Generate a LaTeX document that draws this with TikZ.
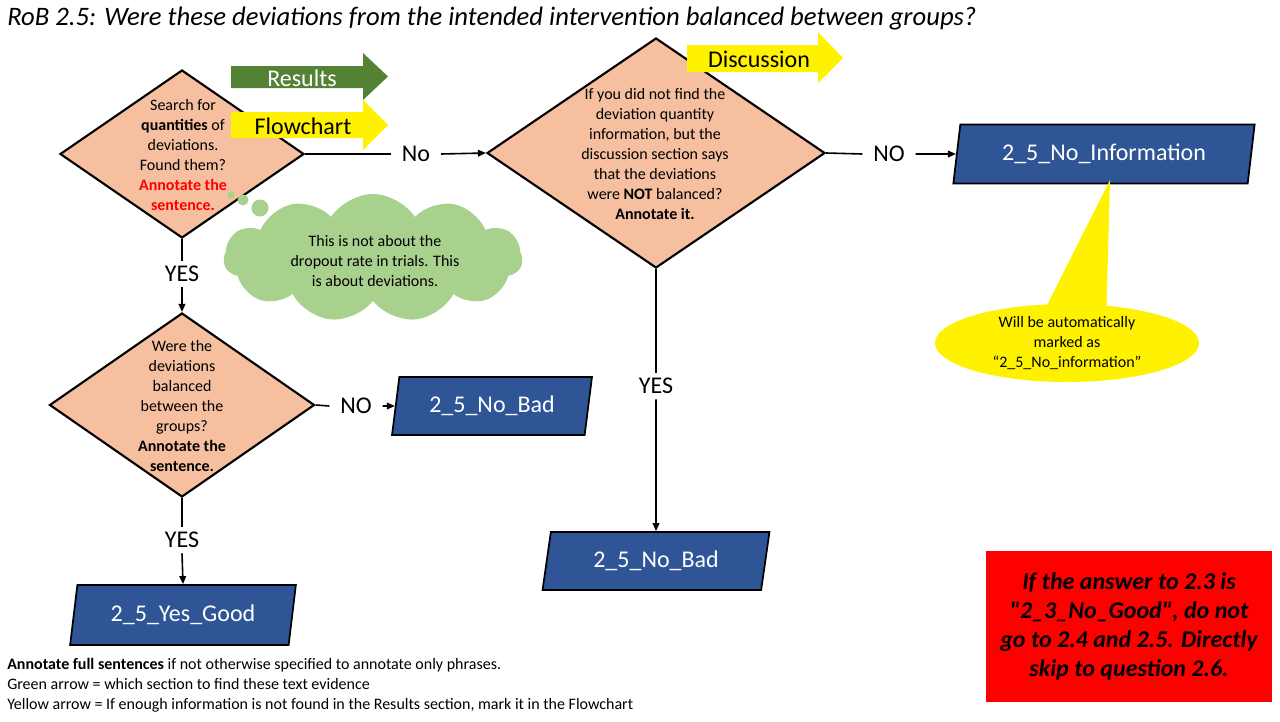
\documentclass[tikz,border=0pt]{standalone}
\usepackage{fontspec}
\setmainfont{Carlito}[Ligatures=TeXOff]
\usetikzlibrary{shapes.geometric,shapes.symbols,shapes.callouts,arrows.meta}
\definecolor{peach}{HTML}{F5BFA0}
\definecolor{pblue}{HTML}{2F5597}
\definecolor{rgreen}{HTML}{548235}
\definecolor{cgreen}{HTML}{A9D18E}
\definecolor{redtxt}{HTML}{FF0000}
\newcommand{\szT}{\fontsize{18}{22}\selectfont}
\newcommand{\szH}{\fontsize{20}{24}\selectfont}
\newcommand{\szD}{\fontsize{12}{15}\selectfont}
\newcommand{\szR}{\fontsize{18}{21.75}\selectfont}
\begin{document}
\begin{tikzpicture}[x=0.75pt,y=-0.75pt,
  decision/.style={diamond, draw=black, line width=1.6pt, fill=peach, inner sep=0pt},
  dtext/.style={align=center, font=\szD, inner sep=0pt},
  outbox/.style={trapezium, trapezium left angle=76, trapezium right angle=104,
     trapezium stretches=true, draw=black, line width=1.3pt, fill=pblue,
     text=white, font=\szT, inner sep=0pt},
  lab/.style={font=\szT, inner xsep=8pt, inner ysep=4pt},
  conn/.style={line width=1.2pt},
  arr/.style={conn, -{Triangle[length=6pt,width=5pt]}},
  bigarrowtxt/.style={font=\szT, inner sep=0pt}
]
\useasboundingbox (0,0) rectangle (1280,721);
\fill[white] (0,0) rectangle (1280,721);

% title
\node[anchor=west, font=\szH\itshape, inner sep=0pt] (title) at (7,19)
  {RoB 2.5: Were these deviations from the intended intervention balanced between groups?};

% decisions
\node[decision, minimum width=183pt, minimum height=126pt] (d1) at (182,154) {};
\node[dtext] (d1t) at (183,155) {Search for\\ \textbf{quantities} of\\ deviations.\\ Found them?\\ \textcolor{redtxt}{\textbf{Annotate the}}\\ \textcolor{redtxt}{\textbf{sentence.}}};

\node[decision, minimum width=253.5pt, minimum height=172.5pt] (d2) at (656,153) {};
\node[dtext] (d2t) at (655,154) {If you did not find the\\ deviation quantity\\ information, but the\\ discussion section says\\ that the deviations\\ were \textbf{NOT} balanced?\\ \textbf{Annotate it.}};

\node[decision, minimum width=198.75pt, minimum height=138pt] (d3) at (182,405) {};
\node[dtext] (d3t) at (182,406) {Were the\\ deviations\\ balanced\\ between the\\ groups?\\ \textbf{Annotate the}\\ \textbf{sentence.}};

% section arrows
\fill[rgreen] (231,66) -- (363,66) -- (363,53) -- (388,76.5) -- (363,100) -- (363,88) -- (231,88) -- cycle;
\node[bigarrowtxt, text=white] (tres) at (302,78) {Results};
\fill[yellow] (231,112) -- (363,112) -- (363,100) -- (388,125) -- (363,150) -- (363,138) -- (231,138) -- cycle;
\node[bigarrowtxt] (tflow) at (303,126) {Flowchart};
\fill[yellow] (687,45) -- (818,45) -- (818,32) -- (843,58) -- (818,83) -- (818,72) -- (687,72) -- cycle;
\node[bigarrowtxt] (tdisc) at (759,59) {Discussion};

% cloud
\node[cloud, cloud puffs=11, cloud puff arc=115, aspect=2.36, fill=cgreen,
      minimum width=224pt, minimum height=96pt, inner sep=0pt] (cloud) at (373,258) {};
\fill[cgreen] (231,195) circle (3.5);
\fill[cgreen] (243,200) circle (5.5);
\fill[cgreen] (260,208) circle (8.5);
\node[dtext] (cloudt) at (375,261) {This is not about the\\ dropout rate in trials. This\\ is about deviations.};

% outcomes
\node[outbox, minimum width=226.5pt, minimum height=44.25pt] (noinfo) at (1104,154) {2\_5\_No\_Information};
\node[outbox, minimum width=150pt, minimum height=43.5pt] (nobadL) at (492,406) {2\_5\_No\_Bad};
\node[outbox, minimum width=169.5pt, minimum height=45pt] (yesgood) at (183,615) {2\_5\_Yes\_Good};
\node[outbox, minimum width=170.25pt, minimum height=43.5pt] (nobadM) at (656,561) {2\_5\_No\_Bad};

% labels on connectors
\node[lab] (l1) at (416,154) {No};
\node[lab] (l2) at (889,154) {NO};
\node[lab] (l3) at (182,274) {YES};
\node[lab] (l4) at (356,406) {NO};
\node[lab] (l5) at (182,540) {YES};
\node[lab] (l6) at (656,386) {YES};

\draw[conn] (d1.east) -- (l1.west);
\draw[arr] (l1.east) -- (d2.west);
\draw[conn] (d2.east) -- (l2.west);
\draw[arr] (l2.east) -- (noinfo.west);
\draw[conn] (d1.south) -- (l3.north);
\draw[arr] (l3.south) -- (d3.north);
\draw[conn] (d3.east) -- (l4.west);
\draw[arr] (l4.east) -- (nobadL.west);
\draw[conn] (d3.south) -- (l5.north);
\draw[arr] (l5.south) -- (yesgood.north);
\draw[conn] (d2.south) -- (l6.north);
\draw[arr] (l6.south) -- (nobadM.north);

% callout
\coordinate (ptip) at (1110,180);
\node[ellipse callout, fill=yellow, minimum width=198pt, minimum height=58.5pt,
      inner sep=0pt, callout absolute pointer={(ptip)}, callout pointer arc=26,
      align=center, font=\szD] (callout) at (1067,343)
  {Will be automatically\\ marked as\\ “2\_5\_No\_information”};

% red note
\node[fill=red, minimum width=215pt, minimum height=113pt, inner sep=0pt, align=center,
      font=\szR\bfseries\itshape] (note) at (1129,626.5)
  {If the answer to 2.3 is\\ "2\_3\_No\_Good", do not\\ go to 2.4 and 2.5. Directly\\ skip to question 2.6.};

% footnote
\node[anchor=north west, align=left, font=\szD, inner sep=0pt] (foot) at (7,658)
  {\textbf{Annotate full sentences} if not otherwise specified to annotate only phrases.\\
   Green arrow = which section to find these text evidence\\
   Yellow arrow = If enough information is not found in the Results section, mark it in the Flowchart};
\end{tikzpicture}
\end{document}
